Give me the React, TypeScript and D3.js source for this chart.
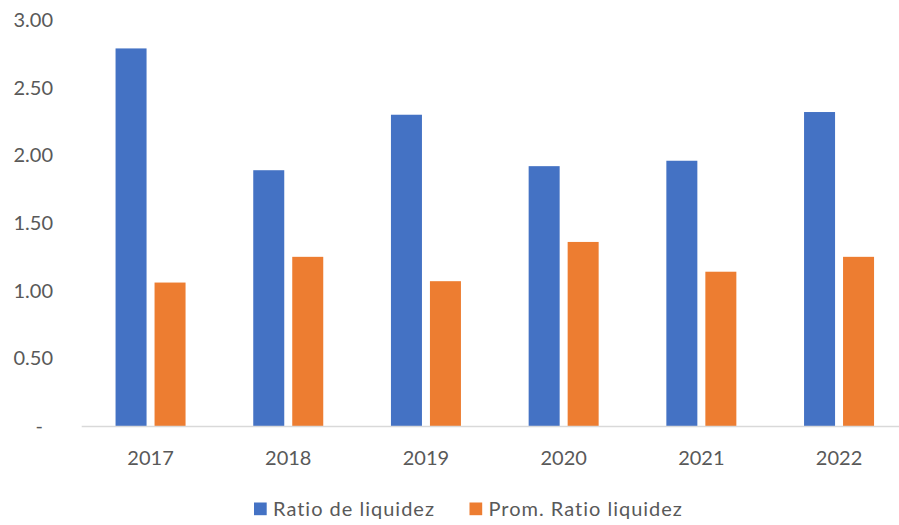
import React, { useEffect, useRef } from "react";
import * as d3 from "d3";

const years = ["2017", "2018", "2019", "2020", "2021", "2022"];
const ratioLiquidez = [2.79, 1.89, 2.3, 1.92, 1.96, 2.32];
const promRatio = [1.06, 1.25, 1.07, 1.36, 1.14, 1.25];
const seriesNames = ["Ratio de liquidez", "Prom. Ratio liquidez"];
const yTicks = [0, 0.5, 1, 1.5, 2, 2.5, 3];
const yTickLabels = ["-", "0.50", "1.00", "1.50", "2.00", "2.50", "3.00"];

const App = () => {
  const ref = useRef<SVGSVGElement | null>(null);

  useEffect(() => {
    drawChart();
  }, []);

  const drawChart = () => {
    const width = 899,
      height = 525;
    const margin = { top: 20, left: 81.7, bottom: 426 };
    const font = "Lato, 'Open Sans', sans-serif";
    const textColor = "#595959";
    const colors = ["#4472c4", "#ed7d31"];

    const svg = d3.select(ref.current);
    svg.selectAll("*").remove();

    const data = years.map((year, i) => ({
      year,
      values: [ratioLiquidez[i], promRatio[i]],
    }));

    const x0 = d3
      .scaleBand()
      .domain(years)
      .range([margin.left, margin.left + 6 * 137.7]);

    // two bars of ~31px with an 8px gap, centred in each category
    const groupW = 70;
    const x1 = d3
      .scaleBand()
      .domain(seriesNames)
      .range([(x0.bandwidth() - groupW) / 2, (x0.bandwidth() + groupW) / 2])
      .paddingInner(0.205);

    const y = d3.scaleLinear().domain([0, 3]).range([margin.bottom, margin.top]);

    // y axis labels (no gridlines)
    svg
      .append("g")
      .selectAll("text")
      .data(yTicks)
      .join("text")
      .attr("x", (d, i) => (yTickLabels[i] === "-" ? 43 : 53))
      .attr("y", (d) => y(d))
      .attr("dy", "0.35em")
      .attr("text-anchor", "end")
      .attr("font-family", font)
      .attr("font-size", 20)
      .attr("fill", textColor)
      .text((d, i) => yTickLabels[i]);

    // bars
    svg
      .append("g")
      .selectAll("g")
      .data(data)
      .join("g")
      .attr("transform", (d) => `translate(${x0(d.year)},0)`)
      .selectAll("rect")
      .data((d) => d.values.map((v, k) => ({ key: seriesNames[k], value: v, k })))
      .join("rect")
      .attr("x", (d) => x1(d.key) as number)
      .attr("y", (d) => y(d.value))
      .attr("width", x1.bandwidth())
      .attr("height", (d) => y(0) - y(d.value))
      .attr("fill", (d) => colors[d.k]);

    // x axis
    svg
      .append("line")
      .attr("x1", margin.left)
      .attr("x2", width)
      .attr("y1", y(0) + 0.5)
      .attr("y2", y(0) + 0.5)
      .attr("stroke", "#d9d9d9")
      .attr("stroke-width", 1.5);

    svg
      .append("g")
      .selectAll("text")
      .data(years)
      .join("text")
      .attr("x", (d) => (x0(d) as number) + x0.bandwidth() / 2)
      .attr("y", 465)
      .attr("text-anchor", "middle")
      .attr("font-family", font)
      .attr("font-size", 20)
      .attr("fill", textColor)
      .text((d) => d);

    // legend
    const legendX = [254, 469.5];
    const legend = svg
      .append("g")
      .selectAll("g")
      .data(seriesNames)
      .join("g")
      .attr("transform", (d, i) => `translate(${legendX[i]},0)`);

    legend
      .append("rect")
      .attr("x", 0)
      .attr("y", 502.5)
      .attr("width", 12.7)
      .attr("height", 12.7)
      .attr("fill", (d, i) => colors[i]);

    legend
      .append("text")
      .attr("x", 19)
      .attr("y", 516)
      .attr("font-family", font)
      .attr("font-size", 20)
      .attr("letter-spacing", 1)
      .attr("fill", textColor)
      .text((d) => d);
  };

  return (
    <svg
      ref={ref}
      width={899}
      height={525}
      style={{ position: "absolute", left: 0, top: 0, background: "#fff" }}
    />
  );
};

export default App;
